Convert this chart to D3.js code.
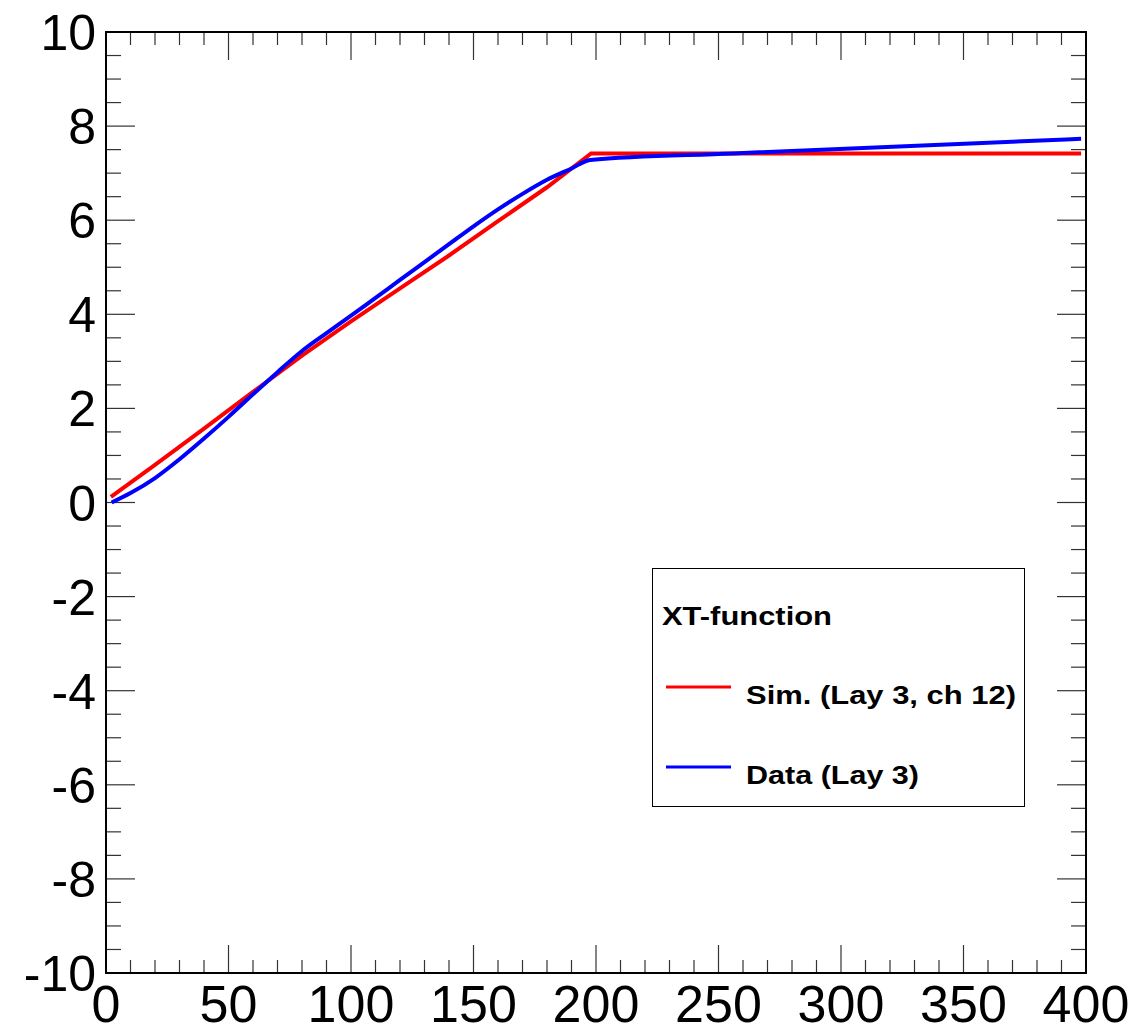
<!DOCTYPE html>
<html>
<head>
<meta charset="utf-8">
<script src="https://cdn.jsdelivr.net/npm/d3@7"></script>
<style>
  body { margin: 0; background: #fff; }
  svg { display: block; font-family: "Liberation Sans", Arial, Helvetica, sans-serif; }
</style>
</head>
<body>
<div id="chart"></div>
<script>
// values
const simX = [2, 20, 40, 60, 80, 100, 120, 140, 160, 180, 198, 398];
const simY = [0.12, 0.8, 1.57, 2.35, 3.12, 3.85, 4.55, 5.25, 5.98, 6.7, 7.42, 7.42];

const dataX = [2.3, 10, 20, 30, 40, 50, 60, 70, 80, 90, 100, 110, 120, 130, 140, 150, 160, 170, 180, 190, 197.6, 256, 398];
const dataY = [0, 0.2, 0.52, 0.92, 1.36, 1.82, 2.3, 2.77, 3.22, 3.6, 3.97, 4.35, 4.73, 5.11, 5.49, 5.87, 6.23, 6.56, 6.86, 7.1, 7.28, 7.42, 7.73];

const xTickLabels = [0, 50, 100, 150, 200, 250, 300, 350, 400];
const yTickLabels = [-10, -8, -6, -4, -2, 0, 2, 4, 6, 8, 10];

const legendTitle = "XT-function";
const legendNames = ["Sim. (Lay 3, ch 12)", "Data (Lay 3)"];
const legendColors = ["#ff0000", "#0000ff"];

const width = 1147, height = 1029;
const margin = { top: 32, right: 61, bottom: 56, left: 106 };

const svg = d3.select("#chart").append("svg")
    .attr("width", width)
    .attr("height", height);

const x = d3.scaleLinear().domain([0, 400]).range([margin.left, width - margin.right]);
const y = d3.scaleLinear().domain([-10, 10]).range([height - margin.bottom, margin.top]);

const x0 = x(0), x1 = x(400), y0 = y(-10), y1 = y(10);

// minor/major ticks on all four sides, pointing inward
const xMinor = d3.range(0, 401, 10).filter(v => v % 50 !== 0);
const yMinor = d3.range(-10, 10.01, 0.5).filter(v => Math.abs(v % 2) > 0.01);
const ticks = svg.append("g").attr("stroke", "#333").attr("stroke-width", 1.2);

function xTicks(vals, len) {
    vals.forEach(v => {
        ticks.append("line").attr("x1", x(v)).attr("x2", x(v)).attr("y1", y0).attr("y2", y0 - len);
        ticks.append("line").attr("x1", x(v)).attr("x2", x(v)).attr("y1", y1).attr("y2", y1 + len);
    });
}
function yTicks(vals, len) {
    vals.forEach(v => {
        ticks.append("line").attr("y1", y(v)).attr("y2", y(v)).attr("x1", x0).attr("x2", x0 + len);
        ticks.append("line").attr("y1", y(v)).attr("y2", y(v)).attr("x1", x1).attr("x2", x1 - len);
    });
}
xTicks(xMinor, 13);
xTicks(xTickLabels, 28);
yTicks(yMinor, 15);
yTicks(yTickLabels, 29);

svg.append("rect")
    .attr("x", x0).attr("y", y1)
    .attr("width", x1 - x0).attr("height", y0 - y1)
    .attr("fill", "none").attr("stroke", "#000").attr("stroke-width", 2);

// tick labels
svg.append("g").selectAll("text").data(xTickLabels).join("text")
    .attr("x", d => x(d))
    .attr("y", 1022)
    .attr("text-anchor", "middle")
    .attr("font-size", 52)
    .text(d => d);

svg.append("g").selectAll("text").data(yTickLabels).join("text")
    .attr("x", 96)
    .attr("y", d => y(d) + 18)
    .attr("text-anchor", "end")
    .attr("font-size", 50)
    .text(d => d);

// curves
const line = d3.line().x(d => x(d[0])).y(d => y(d[1]));
const simPts = simX.map((v, i) => [v, simY[i]]);
const dataPts = dataX.map((v, i) => [v, dataY[i]]);

svg.append("path").datum(simPts)
    .attr("d", line.curve(d3.curveLinear))
    .attr("fill", "none").attr("stroke", legendColors[0]).attr("stroke-width", 4);

svg.append("path").datum(dataPts)
    .attr("d", line.curve(d3.curveMonotoneX))
    .attr("fill", "none").attr("stroke", legendColors[1]).attr("stroke-width", 4);

// legend (reference font is wider than Liberation, so stretch a bit)
const lg = svg.append("g");
lg.append("rect")
    .attr("x", 652.5).attr("y", 568.5).attr("width", 372).attr("height", 238)
    .attr("fill", "#fff").attr("stroke", "#000").attr("stroke-width", 1);
lg.append("text").attr("x", 662).attr("y", 625)
    .attr("font-size", 25).attr("font-weight", "bold")
    .attr("textLength", 170).attr("lengthAdjust", "spacingAndGlyphs")
    .text(legendTitle);

const rowY = [687, 767];
const rowLen = [270, 173];
legendNames.forEach((name, i) => {
    lg.append("line")
        .attr("x1", 666).attr("x2", 731).attr("y1", rowY[i]).attr("y2", rowY[i])
        .attr("stroke", legendColors[i]).attr("stroke-width", 3);
    lg.append("text").attr("x", 746).attr("y", rowY[i] + 17)
        .attr("font-size", 25).attr("font-weight", "bold")
        .attr("textLength", rowLen[i]).attr("lengthAdjust", "spacingAndGlyphs")
        .text(name);
});
</script>
</body>
</html>
